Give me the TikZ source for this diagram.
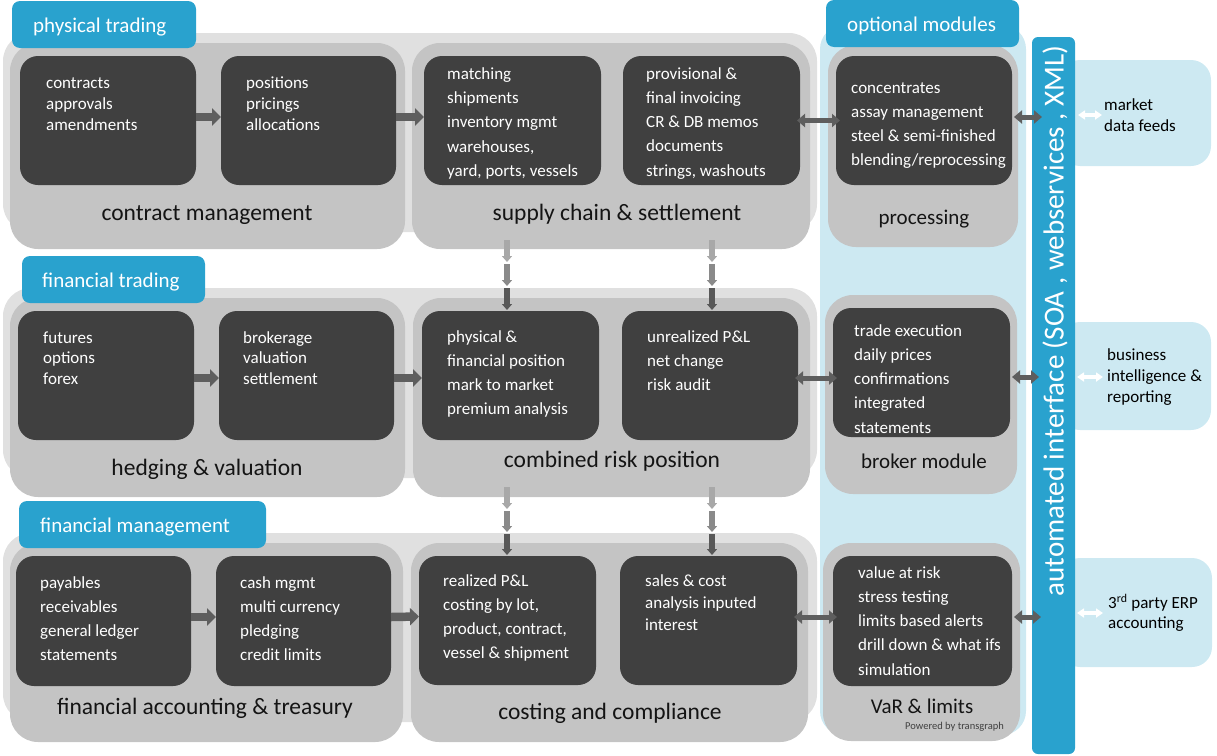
\documentclass[tikz,border=0pt]{standalone}
\usepackage{fontspec}
\setmainfont{Carlito}
\usetikzlibrary{arrows.meta,calc}
\definecolor{cDark}{HTML}{404040}
\definecolor{cMid}{HTML}{C4C4C4}
\definecolor{cLight}{HTML}{E0E0E0}
\definecolor{cBlue}{HTML}{29A2CE}
\definecolor{cLBlue}{HTML}{CDE9F2}
\definecolor{cArrow}{HTML}{5E5E5E}
\definecolor{cVa}{HTML}{A8A8A8}
\definecolor{cVb}{HTML}{8A8A8A}
\definecolor{cVc}{HTML}{585858}
\newcommand{\mkbox}[6]{\pgfmathsetmacro{\mkbw}{#5-#3}\pgfmathsetmacro{\mkbh}{#6-#4}\node[#1,minimum width=\mkbw pt,minimum height=\mkbh pt] (#2) at ({(#3+#5)/2},{(#4+#6)/2}) {};}
\tikzset{
  shp/.style={inner sep=0pt,outer sep=0pt,draw=none},
  lightband/.style={shp,fill=cLight,rounded corners=28pt},
  midpanel/.style={shp,fill=cMid,rounded corners=28pt},
  darkbox/.style={shp,fill=cDark,rounded corners=18pt},
  tabbox/.style={shp,fill=cBlue,rounded corners=8pt},
  ltblue/.style={shp,fill=cLBlue,rounded corners=24pt},
  sidebox/.style={shp,fill=cLBlue,rounded corners=20pt},
  barbox/.style={shp,fill=cBlue,rounded corners=6pt},
  boxtext/.style={text=white,align=left,anchor=base west,inner sep=0pt,yshift=-2pt},
  title/.style={text=black!92,anchor=base,inner sep=0pt,yshift=-2.5pt,font=\fontsize{23.5}{28}\selectfont},
  subtitle/.style={text=black!92,anchor=base,inner sep=0pt,yshift=-2pt,font=\fontsize{21}{25}\selectfont},
  tabtext/.style={text=white,anchor=base west,inner sep=0pt,yshift=-2pt,font=\fontsize{21}{25}\selectfont},
  sidetext/.style={text=black,align=left,anchor=base west,inner sep=0pt,yshift=-1.5pt},
  harrow/.style={draw=cArrow,line width=8.5pt,-{Triangle[length=9pt,width=17pt]}},
  darrow/.style={draw=cArrow,line width=5pt,{Triangle[length=8pt,width=13pt]}-{Triangle[length=8pt,width=13pt]}},
  warrow/.style={draw=white,line width=3.5pt,{Triangle[length=7pt,width=9pt]}-{Triangle[length=7pt,width=9pt]}},
  varrow/.style={line width=5.5pt,-{Triangle[length=6pt,width=10pt]}},
}
\begin{document}
\begin{tikzpicture}[x=1pt,y=-1pt]
\useasboundingbox (0,0) rectangle (1217,755);
% background bands
\mkbox{lightband}{band1}{3}{33}{817}{232}
\mkbox{lightband}{band2}{3}{288}{817}{478}
\mkbox{lightband}{band3}{3}{533}{817}{722}
\mkbox{ltblue}{optcol}{820}{25}{1026}{735}
% side boxes and bar
\mkbox{sidebox}{s1}{1060}{60}{1211}{166}
\mkbox{sidebox}{s2}{1060}{322}{1211}{430}
\mkbox{sidebox}{s3}{1060}{558}{1212}{667}
\mkbox{barbox}{bar}{1032}{37}{1075}{754}
% panels
\mkbox{midpanel}{p11}{10}{43}{405}{249}
\mkbox{midpanel}{p12}{412}{43}{810}{249}
\mkbox{midpanel}{p13}{828}{45}{1018}{247}
\mkbox{midpanel}{p21}{10}{298}{405}{497}
\mkbox{midpanel}{p22}{413}{298}{810}{497}
\mkbox{midpanel}{p23}{825}{295}{1017}{494}
\mkbox{midpanel}{p31}{10}{543}{403}{742}
\mkbox{midpanel}{p32}{411}{543}{808}{742}
\mkbox{midpanel}{p33}{823}{543}{1020}{741}
% dark boxes
\mkbox{darkbox}{b11}{20}{56}{196}{185}
\mkbox{darkbox}{b12}{221}{56}{396}{185}
\mkbox{darkbox}{b13}{424}{56}{601}{185}
\mkbox{darkbox}{b14}{623}{56}{800}{185}
\mkbox{darkbox}{b15}{836}{56}{1012}{185}
\mkbox{darkbox}{b21}{18}{311}{194}{440}
\mkbox{darkbox}{b22}{219}{311}{394}{440}
\mkbox{darkbox}{b23}{422}{311}{599}{440}
\mkbox{darkbox}{b24}{622}{311}{798}{440}
\mkbox{darkbox}{b25}{833}{308}{1010}{437}
\mkbox{darkbox}{b31}{16}{556}{191}{686}
\mkbox{darkbox}{b32}{216}{556}{391}{686}
\mkbox{darkbox}{b33}{419}{556}{596}{685}
\mkbox{darkbox}{b34}{620}{556}{797}{685}
\mkbox{darkbox}{b35}{833}{556}{1012}{686}
% tabs
\mkbox{tabbox}{tab1}{12}{1}{196}{48}
\mkbox{tabbox}{tab2}{22}{256}{205}{303}
\mkbox{tabbox}{tab3}{19}{501}{266}{548}
\mkbox{tabbox}{tab4}{826}{0}{1019}{47}
\node[tabtext] (tt1) at (33,30) {physical trading};
\node[tabtext] (tt2) at (42,285) {financial trading};
\node[tabtext] (tt3) at (40,530) {financial management};
\node[tabtext] (tt4) at (847,29) {optional modules};
% box texts (anchor = baseline of last line)
\node[boxtext,font=\fontsize{17}{21}\selectfont] (x11) at (46,128) {contracts\\approvals\\amendments};
\node[boxtext,font=\fontsize{17}{21}\selectfont] (x12) at (246,128) {positions\\pricings\\allocations};
\node[boxtext,font=\fontsize{17}{24.4}\selectfont] (x13) at (447,174.6) {matching\\shipments\\inventory mgmt\\warehouses,\\yard, ports, vessels};
\node[boxtext,font=\fontsize{17}{24.3}\selectfont] (x14) at (646,174.2) {provisional \&\\final invoicing\\CR \& DB memos\\documents\\strings, washouts};
\node[boxtext,font=\fontsize{17}{24}\selectfont] (x15) at (851,163) {concentrates\\assay management\\steel \& semi-finished\\blending/reprocessing};
\node[boxtext,font=\fontsize{17}{20.5}\selectfont] (x21) at (43,382) {futures\\options\\forex};
\node[boxtext,font=\fontsize{17}{20.5}\selectfont] (x22) at (243,382) {brokerage\\valuation\\settlement};
\node[boxtext,font=\fontsize{17}{24.3}\selectfont] (x23) at (447,412.9) {physical \&\\financial position\\mark to market\\premium analysis};
\node[boxtext,font=\fontsize{17}{24}\selectfont] (x24) at (647,388) {unrealized P\&L\\net change\\risk audit};
\node[boxtext,font=\fontsize{17}{24.3}\selectfont] (x25) at (854,431.2) {trade execution\\daily prices\\confirmations\\integrated\\statements};
\node[boxtext,font=\fontsize{17}{24.3}\selectfont] (x31) at (40,658.9) {payables\\receivables\\general ledger\\statements};
\node[boxtext,font=\fontsize{17}{24.3}\selectfont] (x32) at (240,658.9) {cash mgmt\\multi currency\\pledging\\credit limits};
\node[boxtext,font=\fontsize{17}{24.3}\selectfont] (x33) at (443,656.9) {realized P\&L\\costing by lot,\\product, contract,\\vessel \& shipment};
\node[boxtext,font=\fontsize{17}{22}\selectfont] (x34) at (645,628) {sales \& cost\\analysis inputed\\interest};
\node[boxtext,font=\fontsize{17}{24.3}\selectfont] (x35) at (858,673.2) {value at risk\\stress testing\\limits based alerts\\drill down \& what ifs\\simulation};
% panel titles
\node[title] (n11) at (207,217.5) {contract management};
\node[title] (n12) at (617,217.5) {supply chain \& settlement};
\node[subtitle] (n13) at (924,222) {processing};
\node[title] (n21) at (207,472.5) {hedging \& valuation};
\node[title] (n22) at (612,464.5) {combined risk position};
\node[subtitle] (n23) at (924,466) {broker module};
\node[title] (n31) at (205,711.5) {financial accounting \& treasury};
\node[title] (n32) at (610,716.5) {costing and compliance};
\node[subtitle] (n33) at (922,711) {VaR \& limits};
\node[anchor=base east,inner sep=0pt,text=cDark,font=\fontsize{10.5}{12}\selectfont] (pw) at (1004,729) {Powered by transgraph};
% bar text
\node[rotate=90,text=white,inner sep=0pt,font=\fontsize{29}{33}\selectfont] (bart) at (1055,321) {automated interface (SOA , webservices , XML)};
% side texts
\node[sidetext,font=\fontsize{17}{21}\selectfont] (st1) at (1104,130) {market\\data feeds};
\node[sidetext,font=\fontsize{17}{21}\selectfont] (st2) at (1107,401) {business\\intelligence \&\\reporting};
\node[sidetext,font=\fontsize{17}{20}\selectfont] (st3) at (1108,627) {3\textsuperscript{rd} party ERP\\accounting};
% horizontal arrows
\draw[harrow] ([yshift=3.5pt]b11.east) -- ([yshift=3.5pt]b12.west);
\draw[harrow] ([yshift=3.5pt]b12.east) -- ([yshift=3.5pt]b13.west);
\draw[darrow] ([xshift=-3pt]b14.east) -- ([xshift=4pt]b15.west);
\draw[darrow] ([xshift=2pt,yshift=3.5pt]b15.east) -- ($(b15.east -| bar.west)+(10,-3.5)$);
\draw[harrow] ([yshift=-2.5pt]b21.east) -- ([yshift=-2.5pt]b22.west);
\draw[harrow] ([yshift=-2.5pt]b22.east) -- ([yshift=-2.5pt]b23.west);
\draw[darrow] ($(b24.east)+(-3,2.5)$) -- ($(b24.east -| b25.west)+(4,2.5)$);
\draw[darrow] ($(b25.east)+(2,4.5)$) -- ($(b25.east -| bar.west)+(7,4.5)$);
\draw[harrow] ([yshift=4pt]b31.east) -- ([yshift=4pt]b32.west);
\draw[harrow] ([yshift=4pt]b32.east) -- ([yshift=4pt]b33.west);
\draw[darrow] ($(b34.east)+(-3,-3.5)$) -- ($(b34.east -| b35.west)+(4,-3.5)$);
\draw[darrow] ($(b35.east)+(2,-4)$) -- ($(b35.east -| bar.west)+(9,-4)$);
% white arrows
\coordinate (w1a) at (1078,115); \coordinate (w1b) at (1102,115);
\coordinate (w2a) at (1077,377); \coordinate (w2b) at (1103,377);
\coordinate (w3a) at (1077,613); \coordinate (w3b) at (1103,613);
\draw[warrow] (w1a) -- (w1b);
\draw[warrow] (w2a) -- (w2b);
\draw[warrow] (w3a) -- (w3b);
% vertical arrows
\foreach \vx/\vn in {507/l,712/r}{
  \coordinate (u1\vn) at (\vx,240); \coordinate (u2\vn) at (\vx,262);
  \coordinate (u3\vn) at (\vx,264); \coordinate (u4\vn) at (\vx,286);
  \coordinate (u5\vn) at (\vx,288); \coordinate (u6\vn) at (\vx,310);
  \draw[varrow,draw=cVa] (u1\vn) -- (u2\vn);
  \draw[varrow,draw=cVb] (u3\vn) -- (u4\vn);
  \draw[varrow,draw=cVc] (u5\vn) -- (u6\vn);
  \coordinate (d1\vn) at (\vx,487); \coordinate (d2\vn) at (\vx,509);
  \coordinate (d3\vn) at (\vx,511); \coordinate (d4\vn) at (\vx,532);
  \coordinate (d5\vn) at (\vx,534); \coordinate (d6\vn) at (\vx,555);
  \draw[varrow,draw=cVa] (d1\vn) -- (d2\vn);
  \draw[varrow,draw=cVb] (d3\vn) -- (d4\vn);
  \draw[varrow,draw=cVc] (d5\vn) -- (d6\vn);
}
\end{tikzpicture}
\end{document}
